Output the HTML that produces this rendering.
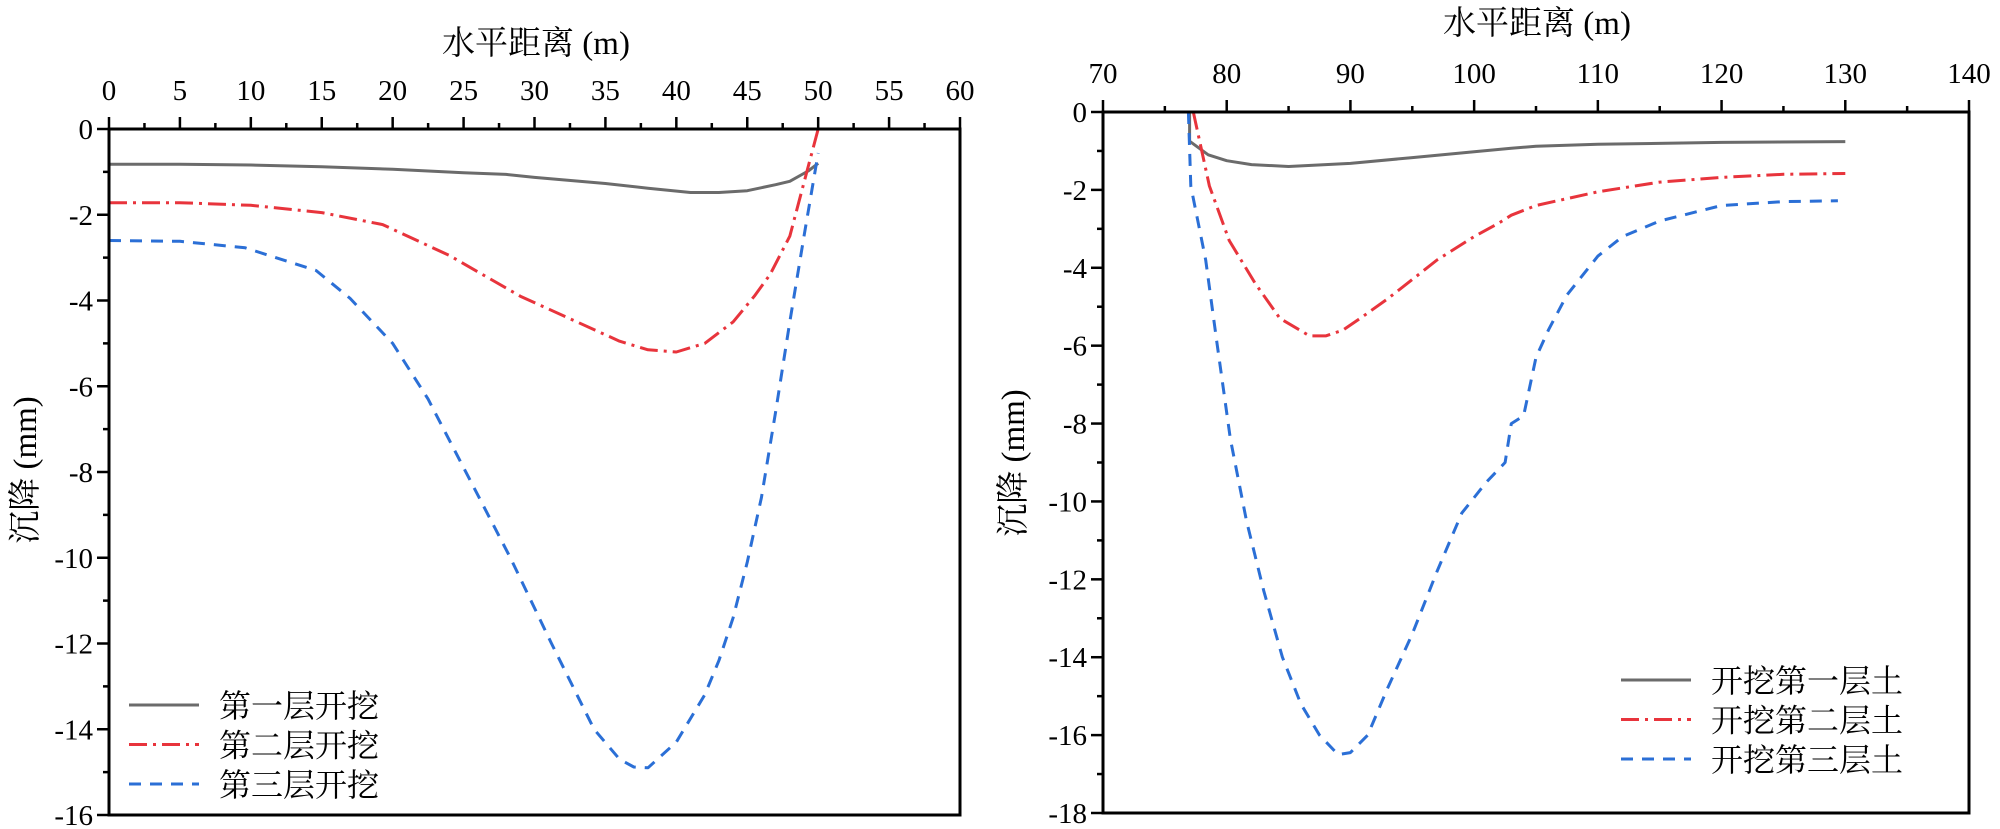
<!DOCTYPE html>
<html><head><meta charset="utf-8">
<style>
html,body{margin:0;padding:0;background:#fff;}
svg{display:block;}
svg text{font-family:"Liberation Serif","Noto Serif CJK SC","Noto Sans CJK SC",serif;fill:#000;}
</style></head>
<body>
<svg id="svg" width="2000" height="829" viewBox="0 0 2000 829" xmlns="http://www.w3.org/2000/svg"></svg>
<script>
// ---- Left chart data ----
const leftXTicks = [0,5,10,15,20,25,30,35,40,45,50,55,60];
const leftYTicks = [0,-2,-4,-6,-8,-10,-12,-14,-16];
const leftNames = ['第一层开挖','第二层开挖','第三层开挖'];
const leftGrayX = [0,5,10,15,20,25,28,30,35,38,41,43,45,47,48,49.3,50];
const leftGrayY = [-0.82,-0.82,-0.84,-0.88,-0.94,-1.02,-1.06,-1.13,-1.27,-1.38,-1.48,-1.48,-1.44,-1.3,-1.22,-0.98,-0.8];
const leftRedX = [0,5,10,15,19.3,24,29,33,36,38,40,42,44,45.5,46.6,48,49.2,50];
const leftRedY = [-1.72,-1.72,-1.78,-1.95,-2.23,-2.95,-3.9,-4.5,-4.95,-5.15,-5.2,-5.0,-4.5,-3.9,-3.4,-2.5,-1.0,0];
const leftBlueX = [0,5,9.6,14.6,17,20,22.5,25,28.3,31.2,34.2,36,37,38,40,42,43,44,45,46,47,48,49,50];
const leftBlueY = [-2.6,-2.62,-2.77,-3.3,-3.95,-5.0,-6.3,-7.9,-10,-12,-14,-14.7,-14.88,-14.9,-14.3,-13.2,-12.4,-11.4,-10.1,-8.6,-6.6,-4.5,-2.5,-0.56];
// ---- Right chart data ----
const rightXTicks = [70,80,90,100,110,120,130,140];
const rightYTicks = [0,-2,-4,-6,-8,-10,-12,-14,-16,-18];
const rightNames = ['开挖第一层土','开挖第二层土','开挖第三层土'];
const rightGrayX = [77,77,78.5,80,82,85,90,95,100,103,105,110,120,130];
const rightGrayY = [0,-0.75,-1.1,-1.25,-1.35,-1.4,-1.32,-1.17,-1.02,-0.93,-0.88,-0.83,-0.78,-0.76];
const rightRedX = [77.3,78.6,80.2,82.3,84.3,86.7,88,89.4,91,93,95,97,100,102,103,105,110,115,120,125,130];
const rightRedY = [0,-1.9,-3.3,-4.4,-5.3,-5.75,-5.75,-5.6,-5.25,-4.8,-4.3,-3.8,-3.2,-2.85,-2.65,-2.4,-2.05,-1.8,-1.68,-1.6,-1.58];
const rightBlueX = [76.9,77.1,78.3,79.2,80.3,81.6,83,84.5,86,87.5,89,90,91.4,93,95,97,99,101,102.5,103,104,105,106,107.5,110,112,115,120,125,129.4];
const rightBlueY = [0,-1.9,-3.8,-5.9,-8.4,-10.5,-12.3,-14,-15.2,-16,-16.5,-16.45,-16,-14.8,-13.4,-11.8,-10.3,-9.5,-9.0,-8.0,-7.8,-6.3,-5.6,-4.7,-3.7,-3.2,-2.8,-2.4,-2.3,-2.28];

const NS='http://www.w3.org/2000/svg';
const FONT='"Liberation Serif","Noto Serif CJK SC","Noto Sans CJK SC",serif';
const svg=document.getElementById('svg');
function el(tag,attrs,parent){const e=document.createElementNS(NS,tag);for(const k in attrs)e.setAttribute(k,attrs[k]);(parent||svg).appendChild(e);return e;}
const colors=['#6b6b6b','#e8343c','#2b6fd6'];
const dashes=['none','18 6 3 6','12 9'];

function chart(cfg){
  const g=el('g',{});
  
  
  const sx=v=>cfg.x0+(v-cfg.xmin)/(cfg.xmax-cfg.xmin)*(cfg.x1-cfg.x0);
  const sy=v=>cfg.y0+(v-cfg.ymax)/(cfg.ymin-cfg.ymax)*(cfg.y1-cfg.y0);
  cfg.series.forEach((s,i)=>{
    const d=s.x.map((v,j)=>(j?'L':'M')+sx(v).toFixed(1)+' '+sy(s.y[j]).toFixed(1)).join(' ');
    const p=el('path',{d:d,fill:'none',stroke:colors[i],'stroke-width':3,'stroke-dasharray':dashes[i],'stroke-linejoin':'round'},g);
    
    
  });
  const fr=el('rect',{x:cfg.x0,y:cfg.y0,width:cfg.x1-cfg.x0,height:cfg.y1-cfg.y0,fill:'none',stroke:'#000','stroke-width':3},g);
  
  
  const xt=cfg.xTicks;
  for(let i=0;i<xt.length;i++){
    const X=sx(xt[i]);
    el('line',{x1:X,y1:cfg.y0,x2:X,y2:cfg.y0-12,stroke:'#000','stroke-width':2.5},g);
    const t=el('text',{x:X,y:cfg.xLabY,'text-anchor':'middle','font-size':29,'font-family':FONT},g);
    t.textContent=xt[i];
    
    
    if(i<xt.length-1){const m=sx((xt[i]+xt[i+1])/2);el('line',{x1:m,y1:cfg.y0,x2:m,y2:cfg.y0-6,stroke:'#000','stroke-width':2.5},g);}
  }
  const yt=cfg.yTicks;
  for(let i=0;i<yt.length;i++){
    const Y=sy(yt[i]);
    el('line',{x1:cfg.x0,y1:Y,x2:cfg.x0-12,y2:Y,stroke:'#000','stroke-width':2.5},g);
    const t=el('text',{x:cfg.x0-16,y:Y+10,'text-anchor':'end','font-size':29,'font-family':FONT},g);
    t.textContent=yt[i];
    
    
    if(i<yt.length-1){const m=sy((yt[i]+yt[i+1])/2);el('line',{x1:cfg.x0,y1:m,x2:cfg.x0-6,y2:m,stroke:'#000','stroke-width':2.5},g);}
  }
  const xtitle=el('text',{x:cfg.xTitleX,y:cfg.xTitleY,'text-anchor':'middle','font-size':33,'font-family':FONT},g);
  xtitle.textContent='水平距离 (m)';
  
  
  const ytitle=el('text',{x:0,y:0,'text-anchor':'middle','font-size':33,'font-family':FONT,transform:'translate('+cfg.yTitleX+','+cfg.yTitleY+') rotate(-90)'},g);
  ytitle.textContent='沉降 (mm)';
  
  
  cfg.names.forEach((n,i)=>{
    const ly=cfg.legY+i*39.5;
    const l=el('line',{x1:cfg.legX,y1:ly,x2:cfg.legX+70,y2:ly,stroke:colors[i],'stroke-width':3,'stroke-dasharray':dashes[i]},g);
    
    
    const t=el('text',{x:cfg.legX+90,y:ly+12,'font-size':32,'font-family':FONT},g);
    t.textContent=n;
    
    
  });
}

chart({name:'left-chart',x0:109,x1:960,y0:129,y1:815,xmin:0,xmax:60,ymin:-16,ymax:0,
  xTicks:leftXTicks,yTicks:leftYTicks,xLabY:100,xTitleX:536,xTitleY:54,yTitleX:36,yTitleY:470,
  legX:129,legY:705,names:leftNames,
  series:[{x:leftGrayX,y:leftGrayY},{x:leftRedX,y:leftRedY},{x:leftBlueX,y:leftBlueY}]});
chart({name:'right-chart',x0:1103,x1:1969,y0:112,y1:813,xmin:70,xmax:140,ymin:-18,ymax:0,
  xTicks:rightXTicks,yTicks:rightYTicks,xLabY:83,xTitleX:1537,xTitleY:34,yTitleX:1024,yTitleY:463,
  legX:1621,legY:680,names:rightNames,
  series:[{x:rightGrayX,y:rightGrayY},{x:rightRedX,y:rightRedY},{x:rightBlueX,y:rightBlueY}]});
</script>
</body></html>
